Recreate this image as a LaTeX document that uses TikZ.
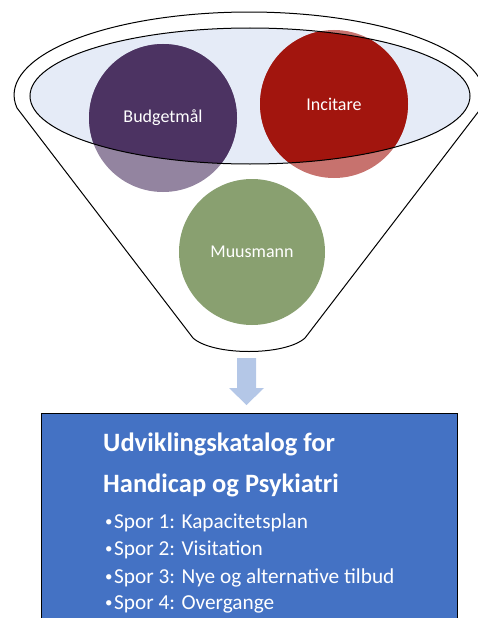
\documentclass[tikz,border=0pt]{standalone}
\usepackage{fontspec}
\setmainfont{Carlito}
\usepackage{xcolor}
\usepackage{tikz}
\pgfdeclarelayer{bg}
\pgfsetlayers{bg,main}
\definecolor{purp}{RGB}{76,51,98}
\definecolor{rodt}{RGB}{162,21,14}
\definecolor{groen}{RGB}{137,160,112}
\definecolor{lysblaa}{RGB}{229,235,247}
\definecolor{pilblaa}{RGB}{180,199,231}
\definecolor{boksblaa}{RGB}{68,114,196}
\newcommand{\prik}{{\fontsize{15}{15}\selectfont\raisebox{1.5pt}{•}}\hspace{1.5pt}}
\tikzset{
  kugle/.style={circle,minimum size=148pt,inner sep=0pt,fill opacity=0.6,text opacity=1,text=white,font=\fontsize{18}{20}\selectfont},
  spor/.style={anchor=base west,text=white,inner sep=0pt,font=\fontsize{21.3}{24}\selectfont},
  titel/.style={anchor=base west,text=white,inner sep=0pt,font=\bfseries\fontsize{26.5}{28}\selectfont}
}

\begin{document}
\begin{tikzpicture}[x=1pt,y=-1pt]
\useasboundingbox (0,0) rectangle (477,618);
    % kugler i tragten
    \node[kugle,fill=purp] (budget) at (163,118) {Budgetmål};
    \node[kugle,fill=rodt] (incitare) at (334,104) {Incitare};
    \node[kugle,fill=groen,fill opacity=1,minimum size=146pt] (muusmann) at (252,252) {Muusmann};
    \begin{pgfonlayer}{bg}
    \draw[line width=1pt,fill=white] (17,108) arc[start angle=189,end angle=-9,x radius=235pt,y radius=83pt]
        -- (305,338) .. controls (285,356) and (213,356) .. (193,338) -- cycle;
    \fill[lysblaa] (250,96) ellipse[x radius=220pt,y radius=68pt];
    \begin{scope}
    \clip (250,96) ellipse[x radius=220pt,y radius=68pt];
    \fill[purp] (budget.center) circle[radius=74pt];
    \fill[rodt] (incitare.center) circle[radius=74pt];
    \end{scope}
    \end{pgfonlayer}
    \draw[line width=1pt] (250,96) ellipse[x radius=220pt,y radius=68pt];
    % pil
    \fill[pilblaa] (237,358)--(256,358)--(256,388)--(264,388)--(246.5,405)--(229,388)--(237,388)--cycle;
    % katalog
    \node[draw=black,line width=1.2pt,fill=boksblaa,anchor=north west,minimum width=416pt,minimum height=220pt,inner sep=0pt] (katalog) at (41,413) {};
    \node[titel] (titel1) at (103,451) {Udviklingskatalog for};
    \node[titel] (titel2) at (103,492) {Handicap og Psykiatri};
    \node[spor] (spor1) at (105,528) {\prik Spor 1: Kapacitetsplan};
    \node[spor] (spor2) at (105,555) {\prik Spor 2: Visitation};
    \node[spor] (spor3) at (105,583) {\prik Spor 3: Nye og alternative tilbud};
    \node[spor] (spor4) at (105,609) {\prik Spor 4: Overgange};
    \end{tikzpicture}
\end{document}
